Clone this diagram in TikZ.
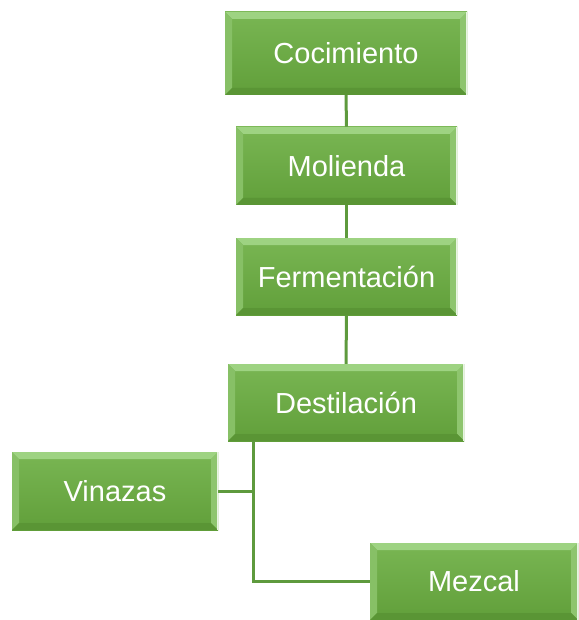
\documentclass[tikz,border=0pt]{standalone}
\usepackage{fontspec}
\setmainfont{Liberation Sans}
\definecolor{gtop}{HTML}{79B653}
\definecolor{gbot}{HTML}{619F3A}
\definecolor{bevtopc}{HTML}{9ED382}
\definecolor{bevleftc}{HTML}{87C066}
\definecolor{bevrightc}{HTML}{8EC56E}
\definecolor{bevbotc}{HTML}{5A9535}
\definecolor{linec}{HTML}{5E9A3D}
\tikzset{
  box/.style={top color=gtop, bottom color=gbot, draw=none, inner sep=0pt, outer sep=0pt},
  conn/.style={draw=linec, line width=3pt},
  boxtext/.style={text=white, font=\fontsize{29}{33}\selectfont},
}
\newcommand\bevelize[2]{%
  \fill[bevtopc] (#1.north west) -- (#1.north east) -- ([shift={(-7pt,-7pt)}]#1.north east) -- ([shift={(7pt,-7pt)}]#1.north west) -- cycle;
  \fill[bevleftc] (#1.north west) -- ([shift={(7pt,-7pt)}]#1.north west) -- ([shift={(7pt,7pt)}]#1.south west) -- (#1.south west) -- cycle;
  \fill[bevrightc] (#1.north east) -- ([shift={(-7pt,-7pt)}]#1.north east) -- ([shift={(-7pt,7pt)}]#1.south east) -- (#1.south east) -- cycle;
  \fill[bevbotc] (#1.south west) -- ([shift={(7pt,7pt)}]#1.south west) -- ([shift={(-7pt,7pt)}]#1.south east) -- (#1.south east) -- cycle;
  \draw[white!80!bevrightc, line width=1pt] ([xshift=-0.5pt]#1.north east) -- ([xshift=-0.5pt]#1.south east);
  \node[boxtext] (#1-label) at (#1.center) {#2};
}
\begin{document}
\begin{tikzpicture}[x=1pt, y=-1pt]
\useasboundingbox (0,0) rectangle (578,620);
\node[box, minimum width=242pt, minimum height=83pt] (coc) at (346,53.5) {};
\node[box, minimum width=221pt, minimum height=78pt] (mol) at (346.5,166) {};
\node[box, minimum width=221pt, minimum height=77pt] (fer) at (346.5,276.5) {};
\node[box, minimum width=236pt, minimum height=77pt] (des) at (346,402.5) {};
\node[box, minimum width=206pt, minimum height=78pt] (vin) at (115,491) {};
\node[box, minimum width=208pt, minimum height=77pt] (mez) at (474,581.5) {};
\coordinate (br) at ([xshift=25pt]des.south west);
\draw[conn] (coc.south) -- (mol.north);
\draw[conn] (mol.south) -- (fer.north);
\draw[conn] (fer.south) -- (des.north);
\draw[conn] (br) |- (vin.east);
\draw[conn] (br) |- (mez.west);
\bevelize{coc}{Cocimiento}
\bevelize{mol}{Molienda}
\bevelize{fer}{Fermentación}
\bevelize{des}{Destilación}
\bevelize{vin}{Vinazas}
\bevelize{mez}{Mezcal}
\end{tikzpicture}
\end{document}
